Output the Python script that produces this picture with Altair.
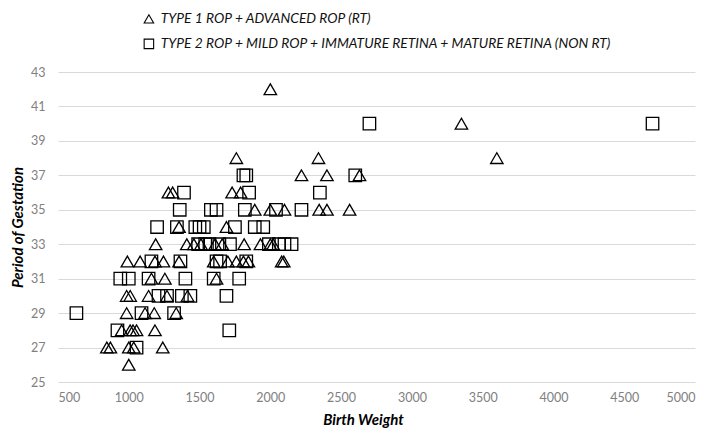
import altair as alt
import pandas as pd

x_ticks = [500, 1000, 1500, 2000, 2500, 3000, 3500, 4000, 4500, 5000]
y_ticks = [25, 27, 29, 31, 33, 35, 37, 39, 41, 43]

series_names = [
    "TYPE 1 ROP + ADVANCED ROP (RT)",
    "TYPE 2 ROP + MILD ROP + IMMATURE RETINA + MATURE RETINA (NON RT)",
]

# Type 1 (triangles)
t1_weight = [2000,
             3350,
             1760, 2340, 3600,
             2220, 2400, 2630,
             1280, 1310, 1730, 1790,
             1890, 2000, 2100, 2345, 2400, 2560,
             1355, 1690,
             1190, 1410, 1460, 1510, 1610, 1660, 1815, 1930, 2000, 2020,
             990, 1080, 1185, 1245, 1355, 1600, 1700, 1760, 1810, 1845, 2080, 2095,
             1160, 1255, 1620,
             985, 1010, 1140, 1270, 1415,
             985, 1115, 1180, 1335,
             950, 1010, 1030, 1055, 1185,
             845, 870, 1000, 1035, 1240,
             1000]
t1_gest = [42,
           40,
           38, 38, 38,
           37, 37, 37,
           36, 36, 36, 36,
           35, 35, 35, 35, 35, 35,
           34, 34,
           33, 33, 33, 33, 33, 33, 33, 33, 33, 33,
           32, 32, 32, 32, 32, 32, 32, 32, 32, 32, 32, 32,
           31, 31, 31,
           30, 30, 30, 30, 30,
           29, 29, 29, 29,
           28, 28, 28, 28, 28,
           27, 27, 27, 27, 27,
           26]

# Type 2 (squares)
t2_weight = [2700, 4700,
             1810, 1830, 2600,
             1390, 1850, 2350,
             1360, 1580, 1620, 1820, 2040, 2220,
             1200, 1340, 1470, 1500, 1530, 1750, 1890, 1950,
             1490, 1540, 1570, 1640, 1715, 1990, 2060, 2100, 2150,
             1160, 1365, 1620, 1645, 1830,
             940, 1000, 1140, 1400, 1600, 1780,
             1210, 1270, 1375, 1435, 1690,
             630, 1090, 1320,
             920, 1710,
             1055]
t2_gest = [40, 40,
           37, 37, 37,
           36, 36, 36,
           35, 35, 35, 35, 35, 35,
           34, 34, 34, 34, 34, 34, 34, 34,
           33, 33, 33, 33, 33, 33, 33, 33, 33,
           32, 32, 32, 32, 32,
           31, 31, 31, 31, 31, 31,
           30, 30, 30, 30, 30,
           29, 29, 29,
           28, 28,
           27]

df = pd.concat([
    pd.DataFrame({"w": t1_weight, "g": t1_gest, "s": series_names[0]}),
    pd.DataFrame({"w": t2_weight, "g": t2_gest, "s": series_names[1]}),
])

chart = alt.Chart(df).mark_point(filled=False, strokeWidth=1.3, opacity=1, size=155).encode(
    x=alt.X("w:Q", scale=alt.Scale(domain=[500, 5000], nice=False, zero=False),
            axis=alt.Axis(values=x_ticks, format="d", title="Birth Weight", grid=False,
                          domain=False, ticks=False, labelPadding=9,
                          titleY=37, titleX=305, titleBaseline="middle")),
    y=alt.Y("g:Q", scale=alt.Scale(domain=[25, 43], nice=False, zero=False),
            axis=alt.Axis(values=y_ticks, title="Period of Gestation", grid=True,
                          domain=False, ticks=False, labelPadding=13,
                          titleX=-41, titleBaseline="middle")),
    shape=alt.Shape("s:N", scale=alt.Scale(domain=series_names,
                                            range=["triangle-up", "square"]),
                    legend=alt.Legend(title=None, orient="none", legendX=84, legendY=-60,
                                      direction="vertical", symbolSize=90,
                                      symbolStrokeColor="black", symbolStrokeWidth=1.1,
                                      symbolFillColor="transparent",
                                      labelFont="Lato", labelFontStyle="italic",
                                      labelFontSize=13.8, labelColor="#111",
                                      labelLimit=600, rowPadding=10, labelOffset=5,
                                      padding=0)),
    color=alt.value("black"),
).properties(
    width=637, height=310,
    autosize=alt.AutoSizeParams(type="none"),
    padding={"left": 50, "top": 64, "right": 6, "bottom": 46},
).configure_view(stroke=None).configure_axis(
    labelFont="Lato", labelFontSize=12.5, labelColor="#808080",
    titleFont="Lato", titleFontSize=15, titleFontWeight="bold",
    titleFontStyle="italic", titleColor="black",
    gridColor="#d9d9d9", gridWidth=1,
)

chart.save("out.html", embed_options={"renderer": "svg", "actions": False})
